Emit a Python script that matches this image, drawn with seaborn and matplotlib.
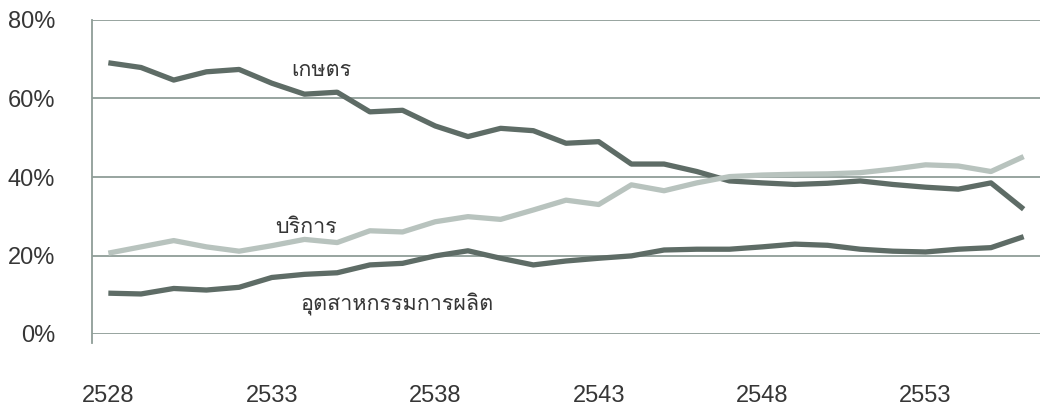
import numpy as np
import pandas as pd
import matplotlib
matplotlib.use("Agg")
import matplotlib.pyplot as plt
from matplotlib import font_manager
from matplotlib.ticker import FixedLocator, FuncFormatter, NullFormatter
import seaborn as sns

# Share of employment by sector (%), Thai Buddhist-era years
years = [2528, 2529, 2530, 2531, 2532, 2533, 2534, 2535, 2536, 2537,
         2538, 2539, 2540, 2541, 2542, 2543, 2544, 2545, 2546, 2547,
         2548, 2549, 2550, 2551, 2552, 2553, 2554, 2555, 2556]
agriculture = [69.1, 67.9, 64.7, 66.8, 67.4, 63.9, 61.1, 61.6, 56.6, 57.0,
               53.0, 50.3, 52.4, 51.8, 48.6, 49.0, 43.3, 43.3, 41.4, 39.0,
               38.5, 38.1, 38.4, 39.0, 38.1, 37.4, 36.9, 38.5, 31.8]
services = [20.6, 22.2, 23.8, 22.2, 21.1, 22.5, 24.1, 23.3, 26.3, 26.0,
            28.6, 29.9, 29.2, 31.6, 34.1, 33.0, 38.0, 36.5, 38.5, 40.1,
            40.5, 40.7, 40.8, 41.1, 42.0, 43.1, 42.8, 41.4, 45.2]
manufacturing = [10.4, 10.2, 11.6, 11.2, 11.9, 14.4, 15.2, 15.6, 17.6, 18.0,
                 19.9, 21.2, 19.3, 17.6, 18.6, 19.3, 19.9, 21.4, 21.6, 21.6,
                 22.2, 22.9, 22.6, 21.6, 21.1, 20.9, 21.6, 22.0, 24.8]

sector_names = ["เกษตร", "บริการ", "อุตสาหกรรมการผลิต"]
y_ticks = [0, 20, 40, 60, 80]
x_label_years = [2528, 2533, 2538, 2543, 2548, 2553]

DARK = "#5e6c66"
LIGHT = "#b8c3be"
GRID = "#8f9d97"
TEXT = "#363636"


def thai_family():
    """Return an installed family that covers the Thai block, if any."""
    try:
        from fontTools.ttLib import TTFont
    except Exception:
        return None
    found = []
    for fe in font_manager.fontManager.ttflist:
        try:
            f = TTFont(fe.fname, fontNumber=0, lazy=True)
            cmap = f.getBestCmap() or {}
            if 0x0E01 in cmap and 0x0E29 in cmap and 0x0E38 in cmap:
                found.append(fe.name)
        except Exception:
            continue
    for pref in ["Tahoma", "Loma", "Noto Sans Thai", "Garuda", "Norasi"]:
        for name in found:
            if pref.lower() in name.lower():
                return name
    return found[0] if found else None


sns.set_style("white")
th = thai_family()
families = ["Liberation Sans", "DejaVu Sans"]
thai_families = ([th] if th else []) + families
plt.rcParams["font.family"] = families

df = pd.DataFrame({
    "year": years * 3,
    "share": agriculture + services + manufacturing,
    "sector": [sector_names[0]] * len(years) + [sector_names[1]] * len(years)
              + [sector_names[2]] * len(years),
})

fig = plt.figure(figsize=(10.40, 4.07), dpi=100)
ax = fig.add_axes([92 / 1040, 1 - 334 / 407, 1 - 92 / 1040, (334 - 20) / 407])

sns.lineplot(data=df, x="year", y="share", hue="sector",
             hue_order=sector_names,
             palette={sector_names[0]: DARK, sector_names[1]: LIGHT,
                      sector_names[2]: DARK},
             linewidth=3.8, legend=False, ax=ax, zorder=3)
for ln in ax.get_lines():
    ln.set_solid_joinstyle("round")
    ln.set_solid_capstyle("butt")

ax.set_xlim(years[0] - 0.5, years[-1] + 0.5)
ax.set_ylim(0, 80)

# horizontal gridlines (0% acts as the baseline)
ax.yaxis.set_major_locator(FixedLocator(y_ticks))
ax.yaxis.set_major_formatter(FuncFormatter(lambda v, p: f"{v:.0f}%"))
ax.grid(axis="y", color=GRID, linewidth=1.3)
ax.grid(axis="x", visible=False)

# tick marks sit between categories, labels sit on the categories
ax.xaxis.set_major_locator(FixedLocator([y - 0.5 for y in x_label_years]))
ax.xaxis.set_major_formatter(NullFormatter())
ax.xaxis.set_minor_locator(FixedLocator(x_label_years))
ax.xaxis.set_minor_formatter(FuncFormatter(lambda v, p: f"{v:.0f}"))
ax.tick_params(axis="x", which="major", direction="out", length=7,
               width=1.3, color=GRID)
ax.tick_params(axis="x", which="minor", length=0, pad=37,
               labelsize=17, labelcolor=TEXT)
ax.tick_params(axis="y", direction="out", length=7.5, width=1.3,
               color=GRID, pad=19, labelsize=17, labelcolor=TEXT)

for side in ["top", "right", "bottom"]:
    ax.spines[side].set_visible(False)
ax.spines["left"].set_color(GRID)
ax.spines["left"].set_linewidth(1.3)
ax.spines["left"].set_bounds(-2.3, 80)
ax.spines["left"].set_zorder(1)

ax.set_xlabel("")
ax.set_ylabel("")

# in-plot sector labels
label_spots = [(2533.58, 65.7), (2533.12, 25.7), (2533.87, 6.1)]
for name, (lx, ly) in zip(sector_names, label_spots):
    ax.text(lx, ly, name, ha="left", va="baseline", fontsize=15.5,
            color=TEXT, family=thai_families, zorder=4)

fig.savefig("out.png", dpi=100, facecolor="white")
